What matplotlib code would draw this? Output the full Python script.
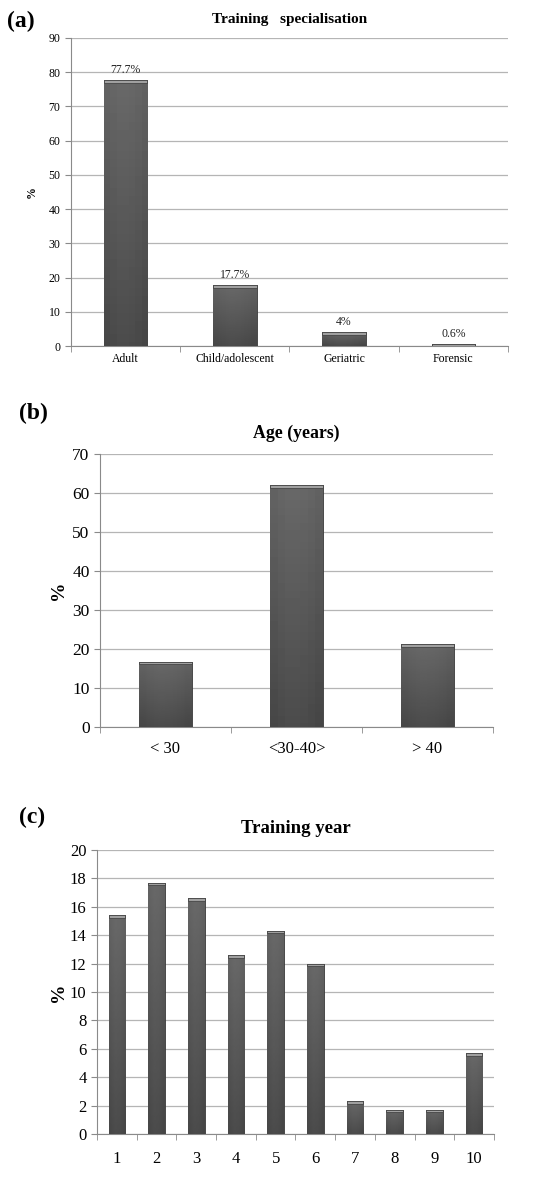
"""Three-panel bar figure: training specialisation, age, training year."""

import matplotlib
matplotlib.use("Agg")
import matplotlib.pyplot as plt
import numpy as np

plt.rcParams["font.family"] = ["Liberation Serif", "DejaVu Serif"]

# ---- data -----------------------------------------------------------------
spec_labels = ["Adult", "Child/adolescent", "Geriatric", "Forensic"]
spec_values = [77.7, 17.7, 4.0, 0.6]
spec_text = ["77.7%", "17.7%", "4%", "0.6%"]

age_labels = ["< 30", "<30-40>", "> 40"]
age_values = [16.7, 62.0, 21.2]

year_labels = ["1", "2", "3", "4", "5", "6", "7", "8", "9", "10"]
year_values = [15.4, 17.7, 16.6, 12.6, 14.3, 12.0, 2.3, 1.7, 1.7, 5.7]

GRID = "#b5b5b5"
SPINE = "#8a8a8a"


def shaded_bars(ax, values, width, ymax):
    x = np.arange(len(values))
    bars = ax.bar(x, values, width, color="#555555", edgecolor="#3a3a3a",
                  linewidth=0.6, zorder=3)
    grad = np.linspace(0.27, 0.41, 64).reshape(-1, 1)
    bevel = np.array([[0.30, 0.36, 0.40, 0.40, 0.38, 0.34, 0.28]])
    img = grad * 0.8 + bevel * 0.2
    for b in bars:
        x0, w, h = b.get_x(), b.get_width(), b.get_height()
        im = ax.imshow(img, cmap="gray", vmin=0, vmax=1, aspect="auto",
                       extent=(x0, x0 + w, 0, h), origin="lower", zorder=3)
        im.set_clip_path(b)
        cap = ymax * 0.009
        ax.bar(x0 + w / 2, cap, w, bottom=h - cap, color="#a0a0a0",
               edgecolor="#3a3a3a", linewidth=0.5, zorder=4)
    return bars


def style_axes(ax, labels, ymax, step, xfs, yfs, pad):
    n = len(labels)
    ax.set_xlim(-0.5, n - 0.5)
    ax.set_ylim(0, ymax)
    ax.set_yticks(np.arange(0, ymax + step / 2, step))
    ax.set_xticks(np.arange(n))
    ax.set_xticklabels(labels, fontsize=xfs)
    ax.set_xticks(np.arange(-0.5, n, 1.0), minor=True)
    ax.tick_params(axis="x", which="major", length=0, pad=pad)
    ax.tick_params(axis="x", which="minor", length=4, color=SPINE)
    ax.tick_params(axis="y", length=4, color=SPINE, labelsize=yfs)
    ax.grid(axis="y", color=GRID, linewidth=0.9, zorder=0)
    ax.set_axisbelow(True)
    for s in ("top", "right"):
        ax.spines[s].set_visible(False)
    for s in ("left", "bottom"):
        ax.spines[s].set_color(SPINE)


fig = plt.figure(figsize=(5.49, 11.94), dpi=100)

# ---- (a) training specialisation -----------------------------------------
ax_a = fig.add_axes([0.1293, 0.7102, 0.796, 0.258])
shaded_bars(ax_a, spec_values, 0.4, 90)
style_axes(ax_a, spec_labels, 90, 10, 8.5, 8.5, 5)
for i, (v, t) in enumerate(zip(spec_values, spec_text)):
    ax_a.text(i, v + 1.2, t, ha="center", va="bottom", fontsize=8.5, color="#222222")
ax_a.set_ylabel("%", fontsize=8.5, fontweight="bold", labelpad=8)
ax_a.set_title("Training   specialisation", fontsize=11, fontweight="bold", pad=11)
fig.text(0.012, 0.982, "(a)", fontsize=17, fontweight="bold", va="center")

# ---- (b) age --------------------------------------------------------------
ax_b = fig.add_axes([0.182, 0.391, 0.716, 0.2286])
shaded_bars(ax_b, age_values, 0.4, 70)
style_axes(ax_b, age_labels, 70, 10, 12, 12.5, 10)
ax_b.set_ylabel("%", fontsize=14, fontweight="bold", labelpad=4)
ax_b.set_title("Age (years)", fontsize=12.8, fontweight="bold", pad=12)
fig.text(0.034, 0.654, "(b)", fontsize=17, fontweight="bold", va="center")

# ---- (c) training year ----------------------------------------------------
ax_c = fig.add_axes([0.1767, 0.0503, 0.723, 0.2379])
shaded_bars(ax_c, year_values, 0.42, 20)
style_axes(ax_c, year_labels, 20, 2, 12, 12, 12)
ax_c.set_ylabel("%", fontsize=14, fontweight="bold", labelpad=2)
ax_c.set_title("Training year", fontsize=13.5, fontweight="bold", pad=12)
fig.text(0.034, 0.315, "(c)", fontsize=17, fontweight="bold", va="center")

fig.savefig("out.png", dpi=100)
